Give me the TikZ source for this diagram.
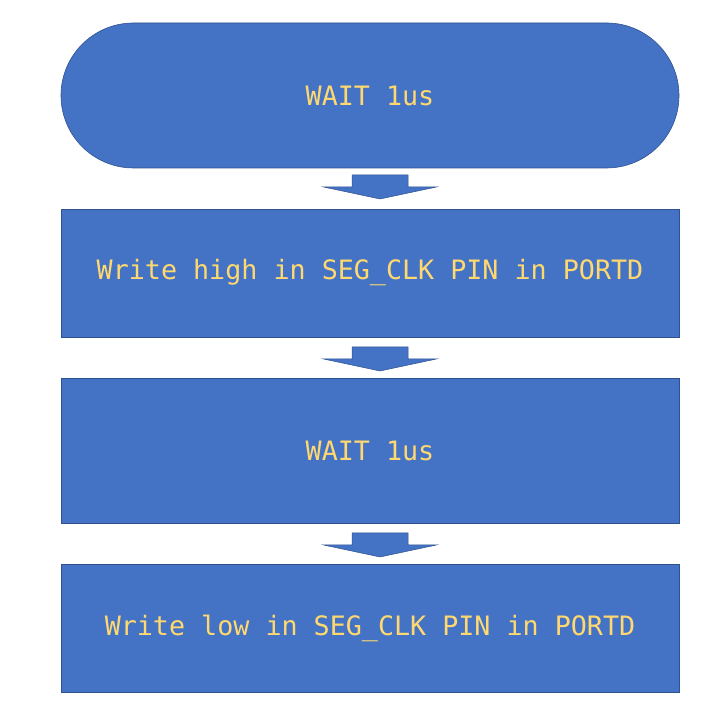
\documentclass[tikz,border=0pt]{standalone}
\usepackage{fontspec}
\setmonofont{DejaVu Sans Mono}
\usetikzlibrary{positioning}

\definecolor{boxfill}{HTML}{4472C4}
\definecolor{boxline}{HTML}{2F528F}
\definecolor{boxtext}{HTML}{FFD970}

\begin{document}
\begin{tikzpicture}[
    x=1pt, y=1pt,
    box/.style={
        draw=boxline,
        fill=boxfill,
        line width=0.6pt,
        align=center,
        minimum width=618pt,
        inner sep=0pt,
        text=boxtext,
        font=\ttfamily\fontsize{26.7}{31}\selectfont
    },
    blockarrow/.style={
        draw=boxline,
        fill=boxfill,
        line width=0.5pt
    }
]
    \useasboundingbox (0,0) rectangle (720,708);

    % Start: terminal shape
    \node[box, minimum height=145pt, rounded corners=72.5pt] (wait1) at (370,612.5) {WAIT 1us};

    % Steps of the clock pulse
    \node[box, minimum height=128pt] (high) at (370,435) {Write high in SEG\_CLK PIN in PORTD};
    \node[box, minimum height=145pt] (wait2) at (370,257.5) {WAIT 1us};
    \node[box, minimum height=128pt] (low) at (370,80) {Write low in SEG\_CLK PIN in PORTD};

    % Block arrows between the steps
    \foreach \t/\name in {533/arrA, 361/arrB, 175/arrC} {
        \coordinate (\name) at (380,\t);
        \draw[blockarrow] (\name) ++(-28,0) -- ++(56,0) -- ++(0,-12) -- ++(28.5,0)
            -- ++(-56.5,-12) -- ++(-56.5,12) -- ++(28.5,0) -- cycle;
    }
\end{tikzpicture}
\end{document}
